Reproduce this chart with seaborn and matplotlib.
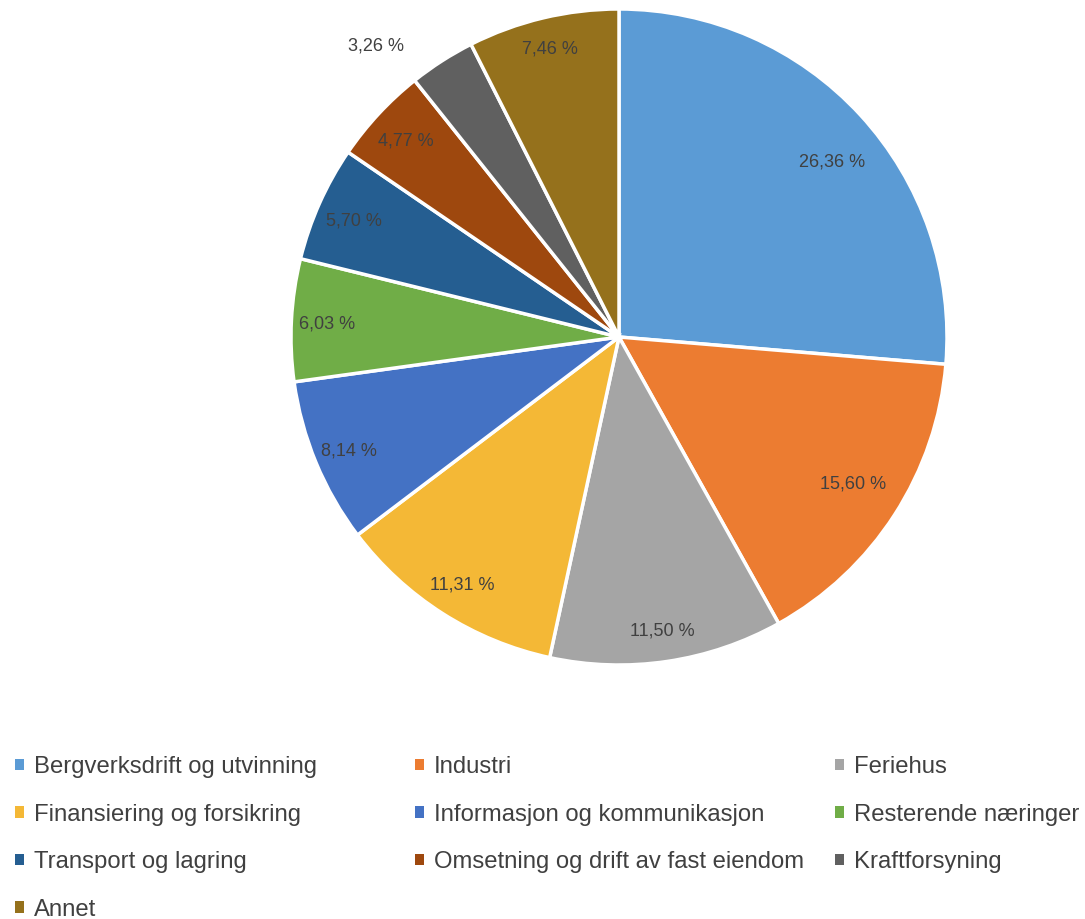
import numpy as np
import matplotlib
matplotlib.use("Agg")
import matplotlib.pyplot as plt
from matplotlib.patches import Patch
import seaborn as sns

sns.set_theme(style="white")
plt.rcParams['font.family'] = ['Liberation Sans', 'DejaVu Sans']

categories = ["Bergverksdrift og utvinning", "Industri", "Feriehus",
              "Finansiering og forsikring", "Informasjon og kommunikasjon",
              "Resterende næringer", "Transport og lagring",
              "Omsetning og drift av fast eiendom", "Kraftforsyning", "Annet"]
values = [26.36, 15.60, 11.50, 11.31, 8.14, 6.03, 5.70, 4.77, 3.26, 7.46]
colors = ["#5B9BD5", "#EC7C31", "#A5A5A5", "#F4B836", "#4472C4",
          "#70AD47", "#255E91", "#9E480E", "#606060", "#95711C"]
label_dist = [0.845, 0.84, 0.90, 0.89, 0.89, 0.89, 0.885, 0.885, 1.16, 0.91]
label_rot = [-3, 1, 0, 0, 0, 0, 0, 0, 7, 0]

W, H = 1085, 919
fig = plt.figure(figsize=(W / 100, H / 100), dpi=100)
ax = fig.add_axes([0, 0, 1, 1])

cx, cy, R = 619, H - 337, 328
wedges, _ = ax.pie(values, colors=colors, startangle=90, counterclock=False,
                   center=(cx, cy), radius=R, frame=True,
                   wedgeprops=dict(edgecolor="white", linewidth=2.5))
ax.set_xlim(0, W)
ax.set_ylim(0, H)
ax.set_aspect("equal")
ax.axis("off")

for w, v, d, r in zip(wedges, values, label_dist, label_rot):
    ang = np.deg2rad((w.theta1 + w.theta2) / 2 + r)
    x = cx + d * R * np.cos(ang)
    y = cy + d * R * np.sin(ang) - 2
    ax.text(x, y, f"{v:.2f} %".replace(".", ","), ha="center", va="center",
            fontsize=13, color="#404040")

cols = [[0, 3, 6, 9], [1, 4, 7], [2, 5, 8]]
xs = [15, 415, 835]
for col, x in zip(cols, xs):
    handles = [Patch(facecolor=colors[i], edgecolor="none") for i in col]
    labels = [categories[i] for i in col]
    fig.legend(handles, labels, loc="upper left",
               bbox_to_anchor=(x / W, 1 - 756 / H), frameon=False,
               fontsize=17.2, handlelength=0.36, handleheight=0.36,
               handletextpad=0.43, labelspacing=1.07, borderpad=0,
               borderaxespad=0, labelcolor="#404040")

fig.savefig("out.png", dpi=100)
